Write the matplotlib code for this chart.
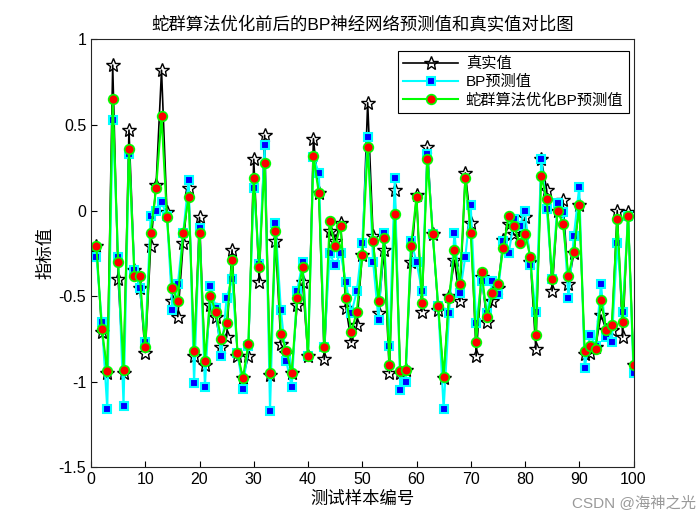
import matplotlib
matplotlib.use('Agg')
import matplotlib.pyplot as plt
import numpy as np

plt.rcParams['font.family'] = ['Liberation Sans', 'Noto Sans CJK SC']
plt.rcParams['axes.unicode_minus'] = False

# test samples 1..100
true_vals = [-0.21, -0.71, -0.95, 0.85, -0.40, -0.95, 0.47, -0.35, -0.45, -0.83,
             -0.21, 0.15, 0.82, -0.01, -0.53, -0.62, -0.19, 0.13, -0.85, -0.04,
             -0.90, -0.55, -0.62, -0.80, -0.74, -0.23, -0.85, -0.98, -0.85, 0.30,
             -0.42, 0.44, -0.96, -0.18, -0.78, -0.83, -0.95, -0.55, -0.42, -0.85,
             0.42, 0.10, -0.87, -0.12, -0.18, -0.07, -0.57, -0.77, -0.67, -0.26,
             0.63, -0.15, -0.60, -0.23, -0.95, 0.12, -0.95, -0.93, -0.30, 0.09,
             -0.59, 0.37, -0.14, -0.58, -0.98, -0.50, -0.29, -0.53, 0.22, -0.07,
             -0.85, -0.39, -0.65, -0.53, -0.45, -0.17, -0.08, -0.14, -0.15, -0.04,
             -0.30, -0.81, 0.30, 0.12, -0.47, 0.00, 0.06, -0.43, -0.25, 0.03,
             -0.84, -0.83, -0.80, -0.61, -0.70, -0.70, 0.00, -0.74, -0.01, -0.90]

bp_pred = [-0.27, -0.65, -1.16, 0.53, -0.27, -1.14, 0.33, -0.35, -0.45, -0.77,
           -0.03, 0.00, 0.05, -0.03, -0.58, -0.43, -0.13, 0.18, -1.01, -0.10,
           -1.03, -0.44, -0.57, -0.85, -0.51, -0.40, -0.83, -1.04, -0.79, 0.13,
           -0.31, 0.38, -1.17, -0.07, -0.58, -0.88, -1.03, -0.47, -0.30, -0.85,
           0.31, 0.22, -0.80, -0.25, -0.32, -0.25, -0.42, -0.60, -0.47, -0.19,
           0.43, -0.30, -0.64, -0.13, -0.79, 0.19, -1.05, -1.00, -0.18, -0.30,
           -0.47, 0.33, -0.14, -0.56, -1.16, -0.60, -0.13, -0.48, -0.27, 0.03,
           -0.66, -0.41, -0.60, -0.41, -0.49, -0.18, -0.25, -0.05, -0.09, 0.00,
           -0.32, -0.59, 0.30, 0.01, -0.40, 0.045, -0.01, -0.51, -0.15, 0.14,
           -0.92, -0.73, -0.79, -0.43, -0.74, -0.77, -0.19, -0.59, -0.03, -0.95]

so_bp_pred = [-0.21, -0.69, -0.94, 0.65, -0.30, -0.93, 0.36, -0.38, -0.38, -0.80,
              -0.13, 0.13, 0.55, -0.04, -0.45, -0.53, -0.13, 0.08, -0.82, -0.13,
              -0.88, -0.50, -0.59, -0.75, -0.66, -0.29, -0.83, -0.98, -0.78, 0.19,
              -0.33, 0.28, -0.95, -0.12, -0.72, -0.82, -0.95, -0.51, -0.33, -0.85,
              0.32, 0.10, -0.80, -0.06, -0.21, -0.09, -0.51, -0.71, -0.59, -0.26,
              0.37, -0.18, -0.53, -0.16, -0.90, -0.02, -0.94, -0.93, -0.21, 0.08,
              -0.54, 0.30, -0.14, -0.56, -0.97, -0.51, -0.23, -0.43, 0.19, -0.13,
              -0.77, -0.36, -0.62, -0.48, -0.43, -0.22, -0.03, -0.09, -0.19, -0.14,
              -0.27, -0.73, 0.20, 0.07, -0.40, 0.00, -0.08, -0.38, -0.24, 0.03,
              -0.82, -0.79, -0.81, -0.52, -0.70, -0.67, -0.05, -0.65, -0.03, -0.90]

x = np.arange(1, len(true_vals) + 1)

fig = plt.figure(figsize=(7, 5.25), dpi=100)
ax = fig.add_axes([0.13, 0.11, 0.775, 0.815])

ax.plot(x, true_vals, '-', color='k', linewidth=1.2, marker='*', markersize=10,
        markerfacecolor='none', markeredgecolor='k', markeredgewidth=1.0, label='真实值')
ax.plot(x, bp_pred, '-', color='#00ffff', linewidth=1.5, marker='s', markersize=5.5,
        markerfacecolor='#0000ff', markeredgecolor='#00ffff', markeredgewidth=1.5, label='BP预测值')
ax.plot(x, so_bp_pred, '-', color='#00ff00', linewidth=1.5, marker='o', markersize=7,
        markerfacecolor='#ff0000', markeredgecolor='#00ff00', markeredgewidth=1.2, label='蛇群算法优化BP预测值')

ax.set_xlim(0, 100)
ax.set_ylim(-1.5, 1)
ax.set_xticks(np.arange(0, 101, 10))
ax.set_yticks([-1.5, -1, -0.5, 0, 0.5, 1])
ax.set_yticklabels(['-1.5', '-1', '-0.5', '0', '0.5', '1'])
ax.tick_params(direction='in', length=4, labelsize=11.5, top=False, right=False)
for s in ax.spines.values():
    s.set_linewidth(0.8)
    s.set_color('#262626')

ax.set_title('蛇群算法优化前后的BP神经网络预测值和真实值对比图', fontsize=12.5, pad=7)
ax.set_xlabel('测试样本编号', fontsize=12.5, labelpad=3)
ax.set_ylabel('指标值', fontsize=12.5)

leg = ax.legend(loc='upper right', bbox_to_anchor=(0.991, 0.972), borderaxespad=0,
                fontsize=11, fancybox=False, edgecolor='k', framealpha=1, borderpad=0.35,
                handlelength=3.6, handletextpad=0.5, labelspacing=0.25)
leg.get_frame().set_linewidth(0.8)

fig.text(0.905, 0.033, 'CSDN @海神之光', fontsize=11, color='#999999', ha='center')

fig.savefig('out.png', dpi=100)
